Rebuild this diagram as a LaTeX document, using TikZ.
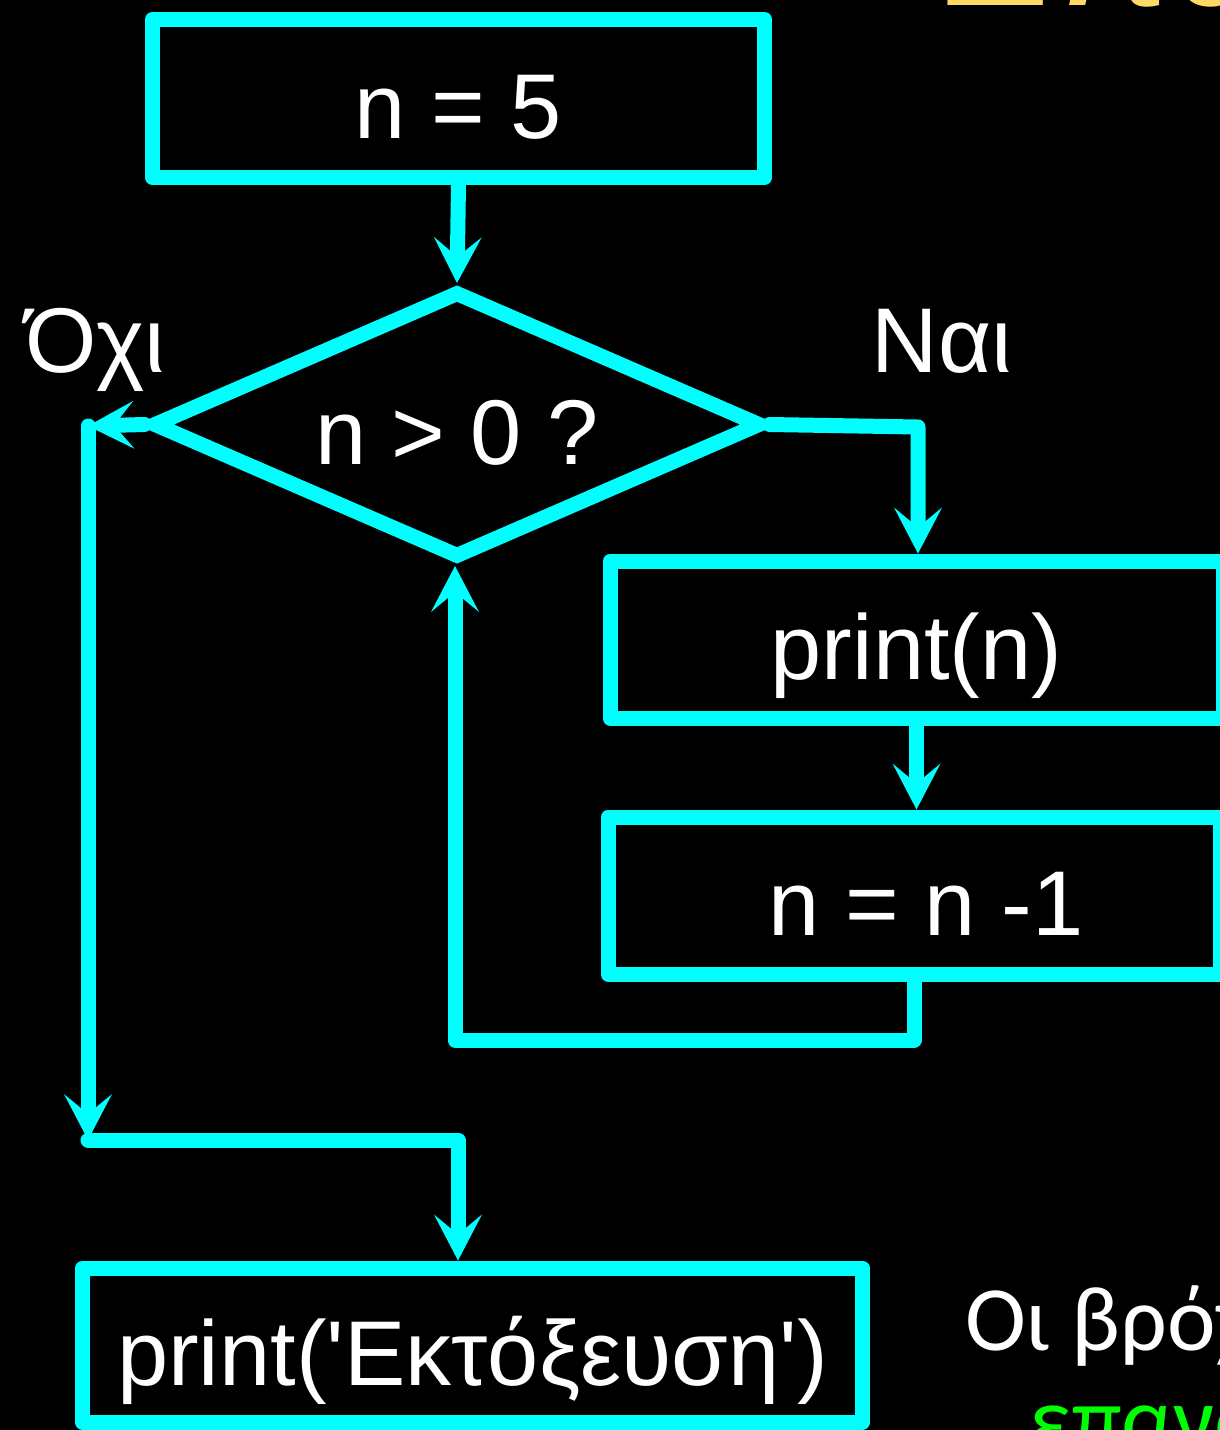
\documentclass[tikz,border=0pt]{standalone}
\usepackage{fontspec}
\setmainfont{Liberation Sans}
\newfontfamily\notefont{Carlito}
\usetikzlibrary{shapes.geometric,arrows.meta}
\definecolor{flowcyan}{HTML}{00FFFF}
\definecolor{titleyellow}{HTML}{FFD966}
\definecolor{notegreen}{HTML}{00FF00}
\tikzset{
  flowbox/.style={draw=flowcyan, line width=7.5pt, line join=round, text=white,
    inner sep=0pt, text height=40pt, text depth=0pt, font=\fontsize{46}{55}\selectfont},
  flowdiamond/.style={diamond, aspect=2.27, draw=flowcyan, line width=7.5pt, text=white,
    inner sep=0pt, text height=40pt, text depth=0pt, font=\fontsize{46}{55}\selectfont},
  flowline/.style={flowcyan, line width=7.5pt, line cap=round, line join=round},
  flowarrow/.style={flowline, -{Stealth[length=23pt,width=24pt,inset=10pt,line width=0pt]}},
  flowlabel/.style={text=white, anchor=base, font=\fontsize{46}{55}\selectfont}
}
\begin{document}
\begin{tikzpicture}[x=0.5pt,y=-0.5pt]
		\useasboundingbox (0,0) rectangle (1220,1430);
		\fill[black] (0,0) rectangle (1220,1430);
		\clip (0,0) rectangle (1220,1430);
		% texts of the slide
		\node[anchor=base west, text=titleyellow, font=\fontsize{88}{100}\selectfont] (title) at (926,5) {Επανάληψη};
		\node[anchor=base west, text=white, font=\notefont\fontsize{46}{55}\selectfont] (note) at (958,1350) {Οι βρόχοι};
		\node[anchor=base west, text=notegreen, font=\notefont\fontsize{46}{55}\selectfont] (notecont) at (1022,1450) {επανάληψη};
		% boxes
		\node[flowbox, minimum width=306pt, minimum height=79pt] (init) at (458.5,98.5) {n = 5};
		\node[flowdiamond, minimum width=305pt, minimum height=134pt] (test) at (457,424.5) {n > 0 ?};
		\node[flowbox, minimum width=306.5pt, minimum height=78.5pt] (show) at (916.5,639.5) {print(n)};
		\node[flowbox, minimum width=306pt, minimum height=78.5pt] (step) at (914,895.5) {\hspace*{12pt}n = n -1};
		\node[flowbox, minimum width=390pt, minimum height=77pt] (done) at (472.5,1345) {print(\textquotesingle Εκτόξευση\textquotesingle)};
		% corners of the connectors
		\coordinate (yesbend) at (918,427);
		\coordinate (loopright) at (914,1040);
		\coordinate (loopleft) at (455,1040);
		\coordinate (nobend) at (88,426);
		\coordinate (nodown) at (88,1140);
		\coordinate (joinright) at (458,1140);
		% connectors
		\draw[flowarrow] (init.south) -- (test.north);
		\draw[flowarrow] (test.east) -- (yesbend) -- (yesbend |- show.north);
		\draw[flowarrow] (show.south) -- (show.south |- step.north);
		\draw[flowarrow] (step.south) -- (loopright) -- (loopleft) -- (loopleft |- test.south);
		\draw[flowarrow] (test.west) -- (nobend);
		\draw[flowarrow] (nobend) -- (nodown);
		\draw[flowarrow] (nodown) -- (joinright) -- (joinright |- done.north);
		% letters
		\node[flowlabel] (nolabel) at (95,372) {Όχι};
		\node[flowlabel] (yeslabel) at (942,372) {Ναι};
\end{tikzpicture}
\end{document}
